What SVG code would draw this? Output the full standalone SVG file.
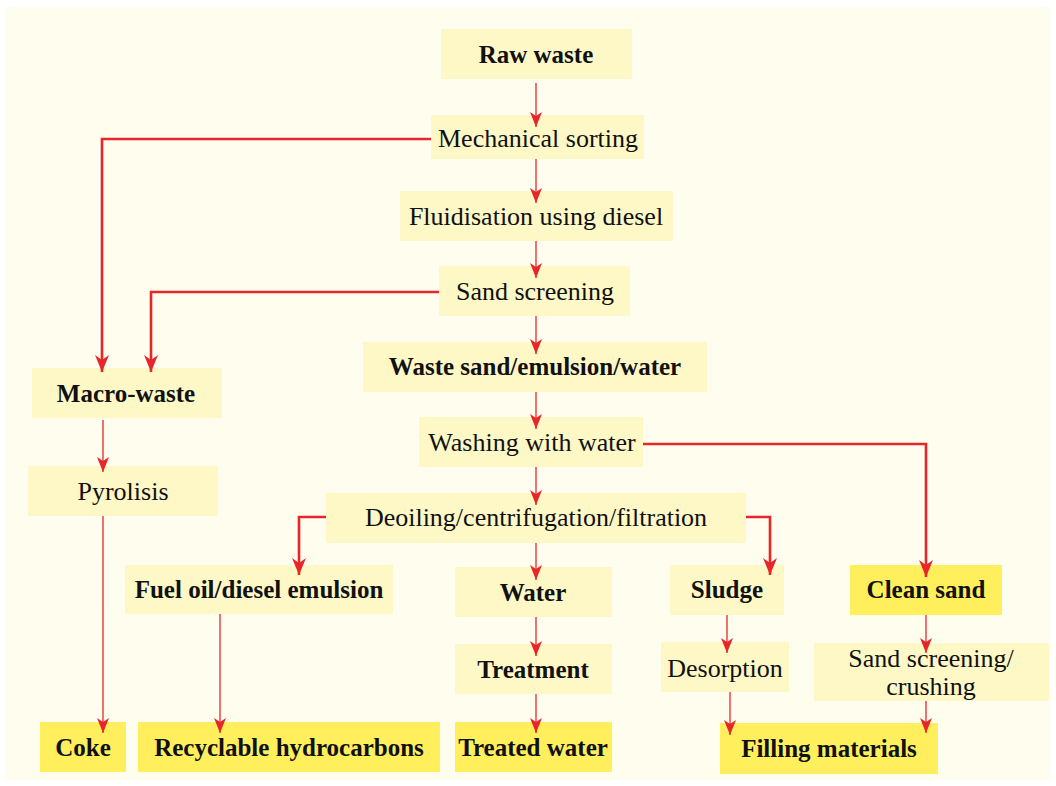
<svg xmlns="http://www.w3.org/2000/svg" width="1056" height="786" viewBox="0 0 1056 786" font-family="'Liberation Serif', 'DejaVu Serif', serif">
<defs>
<marker id="thin" markerUnits="userSpaceOnUse" markerWidth="16" markerHeight="12" viewBox="0 0 16 12" refX="15" refY="6" orient="auto">
<path d="M0,0 L15,6 L0,12 L4,6 z" fill="#e8262a"/>
</marker>
<marker id="thick" markerUnits="userSpaceOnUse" markerWidth="18" markerHeight="14" viewBox="0 0 18 14" refX="17" refY="7" orient="auto">
<path d="M0,0 L17,7 L0,14 L5,7 z" fill="#e8262a"/>
</marker>
</defs>
<style>
.n{fill:#fdf8c6}
.f{fill:#ffef5c}
text{font-family:"Liberation Serif","DejaVu Serif",serif;font-size:26px;fill:#111;text-anchor:middle}
.b{font-weight:bold;font-size:25px}
.t{stroke:#e8262a;stroke-width:1.3;fill:none;marker-end:url(#thin)}
.k{stroke:#e8262a;stroke-width:2.6;fill:none;marker-end:url(#thick)}
</style>
<rect x="0" y="0" width="1056" height="786" fill="#ffffff"/>
<rect x="6" y="7" width="1044" height="773" fill="#fffdee"/>
<g id="raw-waste"><rect class="n" x="441" y="29" width="191" height="50"/><text class="b" x="536" y="63">Raw waste</text></g>
<g id="mechanical-sorting"><rect class="n" x="431" y="115" width="213" height="44"/><text x="538" y="147">Mechanical sorting</text></g>
<g id="fluidisation"><rect class="n" x="400" y="191" width="273" height="50"/><text x="536" y="225">Fluidisation using diesel</text></g>
<g id="sand-screening"><rect class="n" x="439" y="266" width="191" height="50"/><text x="535" y="300">Sand screening</text></g>
<g id="waste-sand"><rect class="n" x="363" y="342" width="344" height="50"/><text class="b" x="535" y="375">Waste sand/emulsion/water</text></g>
<g id="washing"><rect class="n" x="419" y="417" width="224" height="50"/><text x="532" y="451">Washing with water</text></g>
<g id="deoiling"><rect class="n" x="326" y="493" width="420" height="50"/><text x="536" y="526">Deoiling/centrifugation/filtration</text></g>
<g id="macro-waste"><rect class="n" x="32" y="368" width="190" height="50"/><text class="b" x="126" y="402">Macro-waste</text></g>
<g id="pyrolisis"><rect class="n" x="28" y="466" width="190" height="50"/><text x="123" y="500">Pyrolisis</text></g>
<g id="fuel-oil"><rect class="n" x="125" y="565" width="268" height="49"/><text class="b" x="259" y="598">Fuel oil/diesel emulsion</text></g>
<g id="water"><rect class="n" x="455" y="567" width="157" height="50"/><text class="b" x="533" y="601">Water</text></g>
<g id="treatment"><rect class="n" x="455" y="644" width="157" height="50"/><text class="b" x="533" y="678">Treatment</text></g>
<g id="sludge"><rect class="n" x="670" y="565" width="114" height="50"/><text class="b" x="727" y="598">Sludge</text></g>
<g id="clean-sand"><rect class="f" x="850" y="565" width="152" height="50"/><text class="b" x="926" y="598">Clean sand</text></g>
<g id="desorption"><rect class="n" x="661" y="642" width="128" height="50"/><text x="725" y="677">Desorption</text></g>
<g id="sand-crushing"><rect class="n" x="814" y="643" width="235" height="58"/><text x="931" y="667">Sand screening/</text><text x="931" y="695">crushing</text></g>
<g id="coke"><rect class="f" x="40" y="722" width="86" height="50"/><text class="b" x="83" y="756">Coke</text></g>
<g id="recyclable"><rect class="f" x="138" y="722" width="302" height="50"/><text class="b" x="289" y="756">Recyclable hydrocarbons</text></g>
<g id="treated-water"><rect class="f" x="455" y="722" width="157" height="50"/><text class="b" x="533" y="756">Treated water</text></g>
<g id="filling"><rect class="f" x="720" y="723" width="218" height="51"/><text class="b" x="829" y="757">Filling materials</text></g>
<g id="connectors">
<path class="t" d="M536,83 V127"/>
<path class="t" d="M536,159 V203"/>
<path class="t" d="M536,241 V278"/>
<path class="t" d="M536,316 V354"/>
<path class="t" d="M536,392 V429"/>
<path class="t" d="M536,467 V505"/>
<path class="t" d="M536,543 V580"/>
<path class="t" d="M536,617 V656"/>
<path class="t" d="M536,694 V733"/>
<path class="t" d="M103,420 V472"/>
<path class="t" d="M103,516 V733"/>
<path class="t" d="M220,614 V733"/>
<path class="t" d="M727,615 V653"/>
<path class="t" d="M730,692 V735"/>
<path class="t" d="M926,615 V653"/>
<path class="t" d="M926,701 V733"/>
<path class="k" d="M431,139 H102 V372"/>
<path class="k" d="M439,292 H151 V372"/>
<path class="k" d="M643,444 H926 V577"/>
<path class="k" d="M326,517 H299 V575"/>
<path class="k" d="M746,517 H770 V575"/>
</g>
</svg>
